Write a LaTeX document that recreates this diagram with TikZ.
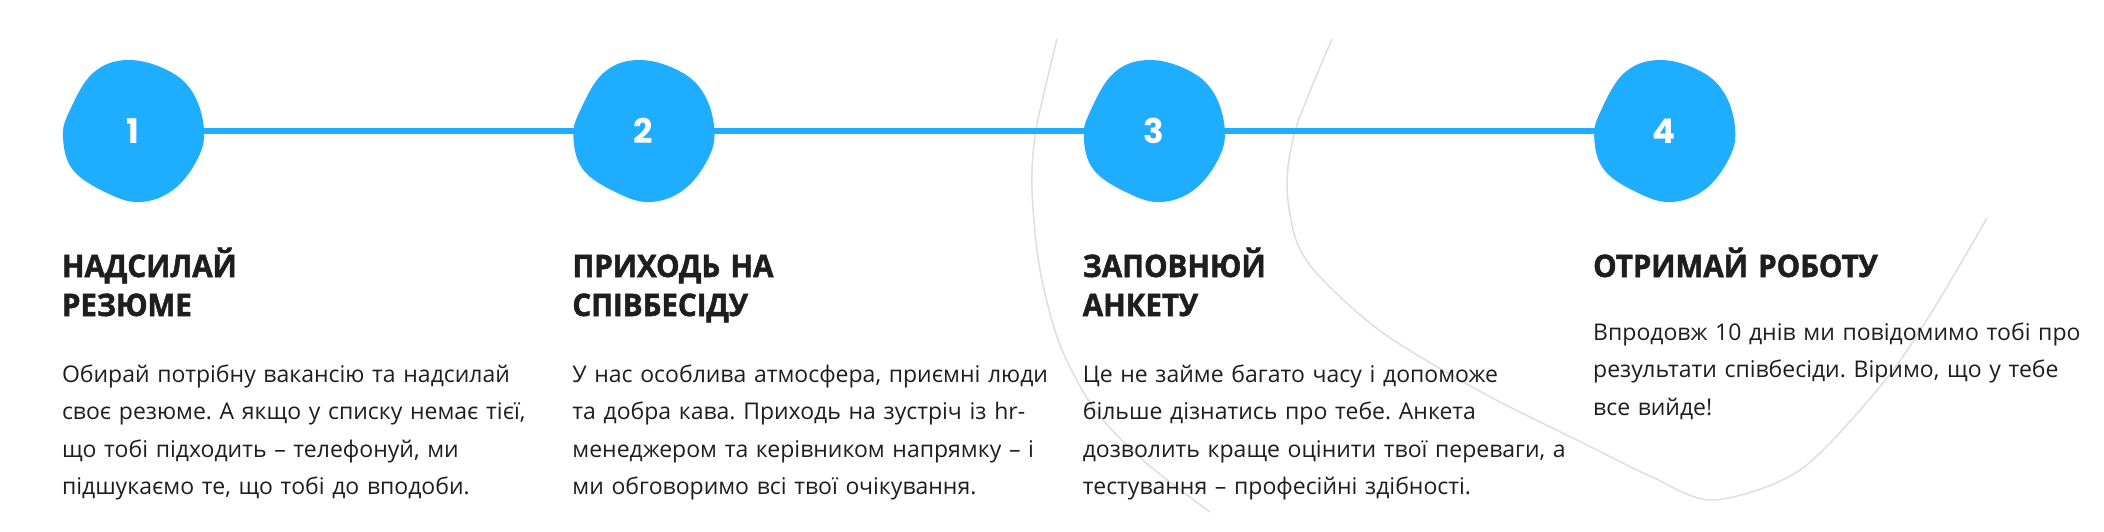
\documentclass[tikz,border=0pt]{standalone}
\usepackage{fontspec}
\setmainfont{Open Sans}
\newfontfamily\headfont{Open Sans}[BoldFeatures={FakeBold=1.6, FakeStretch=0.95}]
\newfontfamily\numfont{Poppins}
\usetikzlibrary{positioning,backgrounds}

\definecolor{stepblue}{HTML}{1FADFF}
\definecolor{stepink}{HTML}{1E1E1E}
\definecolor{swirlgray}{HTML}{DEDEDE}

\begin{document}
\frenchspacing
\begin{tikzpicture}[x=1pt, y=-1pt, node distance=368pt,
    blob/.style={rectangle, minimum width=142pt, minimum height=142pt, inner sep=0pt,
        text=white, font=\numfont\bfseries\fontsize{34}{34}\selectfont},
    blobfill/.style={fill=stepblue},
    stephead/.style={text width=480pt, align=left, inner sep=0pt, text=stepink,
        font=\headfont\bfseries\fontsize{31}{39}\selectfont},
    steptext/.style={text width=500pt, align=left, inner sep=0pt, text=stepink,
        font=\fontsize{23}{37.5}\selectfont},
    stepline/.style={stepblue, line width=6pt, shorten <=-3pt, shorten >=-3pt},
    swirl/.style={swirlgray, line width=1.5pt}]

    \useasboundingbox (0,0) rectangle (2104,532);

    % фонові лінії
    \draw[swirl] plot[smooth] coordinates {(1057,39) (1036,130) (1032,190) (1040,270) (1060,345)
        (1095,410) (1145,462) (1210,512)};
    \draw[swirl] plot[smooth] coordinates {(1332,39) (1296,128) (1287,185) (1296,240) (1320,277)
        (1383,333) (1483,393) (1583,443) (1650,476) (1713,500) (1800,470) (1883,383)
        (1933,310) (1987,218)};

    % кроки
    \node[blob] (s1) at (133,131) {1};
    \node[blob] (s2) [right=of s1] {2};
    \node[blob] (s3) [right=of s2] {3};
    \node[blob] (s4) [right=of s3] {4};

    \begin{scope}[on background layer]
        \foreach \s in {s1,s2,s3,s4}
            \fill[blobfill, shift={(\s.center)}] plot[smooth cycle, tension=0.65] coordinates {(-6,-71)
                (-40,-58) (-63,-21) (-70,6) (-60,39) (-26,62) (7,71) (40,59) (64,29) (71,-1) (60,-38) (34,-61)};
    \end{scope}

    % з'єднання
    \draw[stepline] (s1) -- (s2);
    \draw[stepline] (s2) -- (s3);
    \draw[stepline] (s3) -- (s4);

    % заголовки
    \node[stephead] (h1) [below=146pt of s1.west, anchor=base west] {НАДСИЛАЙ\\РЕЗЮМЕ};
    \node[stephead] (h2) [below=146pt of s2.west, anchor=base west] {ПРИХОДЬ НА\\СПІВБЕСІДУ};
    \node[stephead] (h3) [below=146pt of s3.west, anchor=base west] {ЗАПОВНЮЙ\\АНКЕТУ};
    \node[stephead] (h4) [below=146pt of s4.west, anchor=base west] {ОТРИМАЙ РОБОТУ};

    % опис
    \node[steptext] (t1) [below=251pt of s1.west, anchor=base west]
        {Обирай потрібну вакансію та надсилай\\своє резюме. А якщо у списку немає тієї,\\що тобі підходить – телефонуй, ми\\підшукаємо те, що тобі до вподоби.};
    \node[steptext] (t2) [below=251pt of s2.west, anchor=base west]
        {У нас особлива атмосфера, приємні люди\\та добра кава. Приходь на зустріч із hr-\\менеджером та керівником напрямку – і\\ми обговоримо всі твої очікування.};
    \node[steptext] (t3) [below=251pt of s3.west, anchor=base west]
        {Це не займе багато часу і допоможе\\більше дізнатись про тебе. Анкета\\дозволить краще оцінити твої переваги, а\\тестування – професійні здібності.};
    \node[steptext] (t4) [below=209pt of s4.west, anchor=base west]
        {Впродовж 10 днів ми повідомимо тобі про\\результати співбесіди. Віримо, що у тебе\\все вийде!};

\end{tikzpicture}
\end{document}
